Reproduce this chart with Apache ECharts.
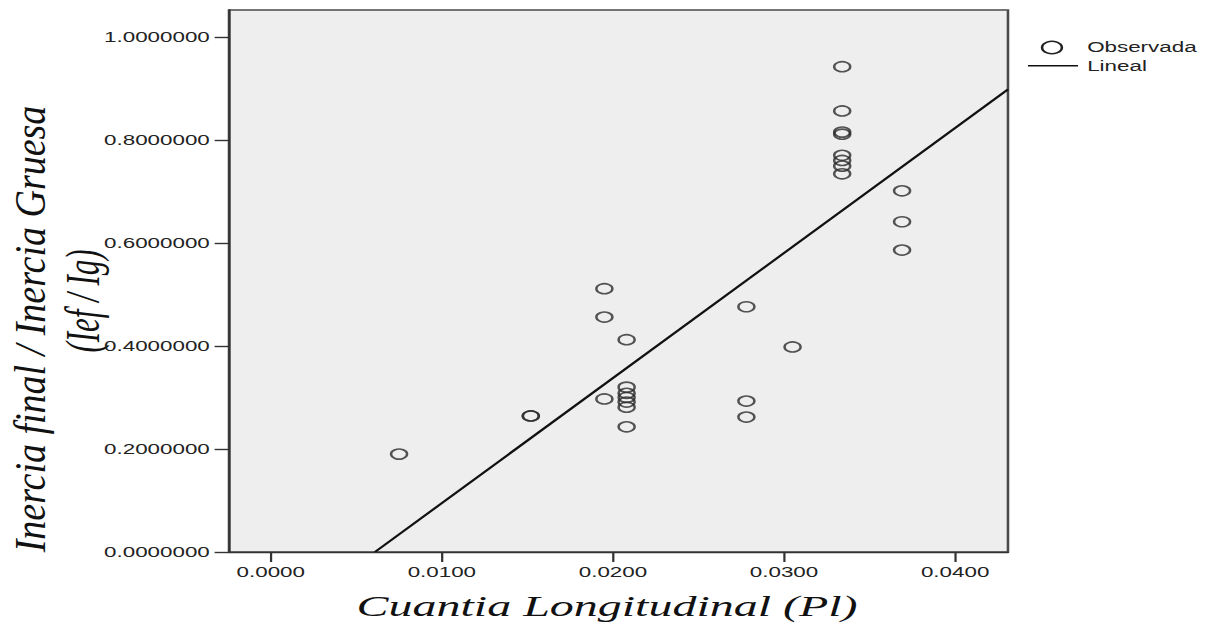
<!DOCTYPE html>
<html><head><meta charset="utf-8">
<script src="https://cdn.jsdelivr.net/npm/echarts@6/dist/echarts.min.js"></script>
<style>
html,body{margin:0;padding:0;background:#fff;overflow:hidden;width:1217px;height:623px}
#c{width:761px;height:623px;transform:scaleX(1.59921);transform-origin:0 0;}
</style></head><body><div id="c"></div>
<script>
// Observed points (Cuantia Longitudinal, Ief/Ig)
const xObs = [0.0075, 0.0152, 0.0152, 0.0195, 0.0195, 0.0195,
  0.0208, 0.0208, 0.0208, 0.0208, 0.0208, 0.0208, 0.0208,
  0.0278, 0.0278, 0.0278, 0.0305,
  0.0334, 0.0334, 0.0334, 0.0334, 0.0334, 0.0334, 0.0334, 0.0334,
  0.0369, 0.0369, 0.0369];
const yObs = [0.190, 0.264, 0.264, 0.511, 0.456, 0.297,
  0.412, 0.320, 0.308, 0.300, 0.291, 0.281, 0.243,
  0.476, 0.293, 0.262, 0.398,
  0.942, 0.856, 0.815, 0.811, 0.770, 0.760, 0.749, 0.734,
  0.701, 0.641, 0.586];
// Linear fit endpoints
const lineX = [0.00609, 0.04309];
const lineY = [0.0, 0.898];
// Tick values
const xTicks = [0.0, 0.01, 0.02, 0.03, 0.04];
const yTicks = [0.0, 0.2, 0.4, 0.6, 0.8, 1.0];

const chart = echarts.init(document.getElementById('c'), null, {renderer: 'svg'});
const sansFont = '"Liberation Sans", Arial, sans-serif';
const serifFont = '"Liberation Serif", "Times New Roman", serif';
chart.setOption({
  animation: false,
  backgroundColor: '#ffffff',
  grid: {left: 143.2, right: 130.7, top: 10, bottom: 71, show: true,
    backgroundColor: '#eeeeee', borderColor: '#4a4a4a', borderWidth: 1.6},
  xAxis: {
    type: 'value', min: -0.00244, max: 0.04309,
    axisLine: {show: true, onZero: false, lineStyle: {color: '#333', width: 1.4}},
    axisTick: {show: true, length: 10, customValues: xTicks, lineStyle: {color: '#333', width: 1.4}},
    axisLabel: {customValues: xTicks, margin: 13, fontFamily: sansFont, fontSize: 14, color: '#222',
      formatter: v => v.toFixed(4)},
    splitLine: {show: false}
  },
  yAxis: {
    type: 'value', min: 0, max: 1.052,
    axisLine: {show: true, onZero: false, lineStyle: {color: '#333', width: 1.4}},
    axisTick: {show: true, length: 9, customValues: yTicks, lineStyle: {color: '#333', width: 1.4}},
    axisLabel: {customValues: yTicks, margin: 12, fontFamily: sansFont, fontSize: 14, color: '#222',
      formatter: v => v.toFixed(7)},
    splitLine: {show: false}
  },
  series: [
    {name: 'Lineal', type: 'line', data: lineX.map((x, i) => [x, lineY[i]]),
      showSymbol: false, lineStyle: {color: '#111', width: 1.8}, z: 2},
    {name: 'Observada', type: 'scatter', data: xObs.map((x, i) => [x, yObs[i]]),
      symbol: 'circle', symbolSize: 10,
      itemStyle: {color: 'rgba(0,0,0,0)', borderColor: '#2a2a2a', borderWidth: 1.6}, z: 3}
  ],
  graphic: [
    {type: 'text', x: 379.6, y: 606, style: {text: 'Cuantia Longitudinal (Pl)',
      font: 'italic 30px ' + serifFont, fill: '#111', align: 'center', verticalAlign: 'middle'}},
    {type: 'text', x: 18.8, y: 329, rotation: Math.PI / 2, scaleY: 0.72,
      style: {text: 'Inercia final / Inercia Gruesa', font: 'italic 38px ' + serifFont,
        fill: '#111', align: 'center', verticalAlign: 'middle'}},
    {type: 'text', x: 51.3, y: 301, rotation: Math.PI / 2,
      style: {text: '(Ief / Ig)', font: 'italic 31px ' + serifFont,
        fill: '#111', align: 'center', verticalAlign: 'middle'}},
    {type: 'circle', shape: {cx: 657.8, cy: 47.5, r: 6.2},
      style: {fill: 'none', stroke: '#222', lineWidth: 1.6}},
    {type: 'text', x: 679.8, y: 47.5, style: {text: 'Observada', font: '14px ' + sansFont,
      fill: '#222', align: 'left', verticalAlign: 'middle'}},
    {type: 'line', shape: {x1: 642.8, y1: 65.7, x2: 674.1, y2: 65.7},
      style: {stroke: '#111', lineWidth: 1.6}},
    {type: 'text', x: 679.8, y: 65.7, style: {text: 'Lineal', font: '14px ' + sansFont,
      fill: '#222', align: 'left', verticalAlign: 'middle'}}
  ]
});
</script></body></html>
